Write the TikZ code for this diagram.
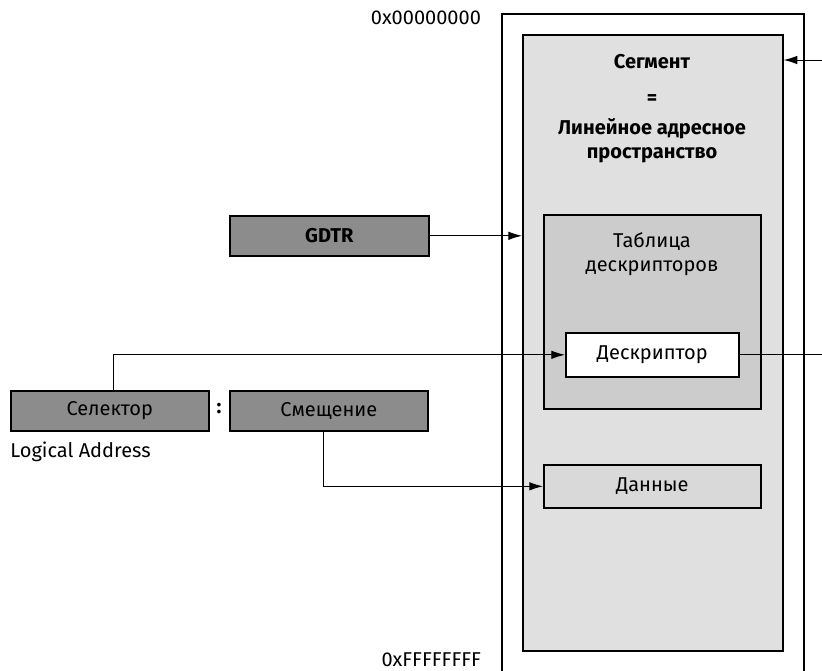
\documentclass[tikz,border=0pt]{standalone}
\usepackage{fontspec}
\setmainfont{Fira Sans}
\usetikzlibrary{arrows.meta, positioning}

\begin{document}
\begin{tikzpicture}[
    x=0.5pt, y=-0.5pt,
    frame/.style={draw, line width=1pt, inner sep=0pt, anchor=north west},
    area/.style={draw, line width=0.8pt, inner sep=0pt, anchor=north west},
    regbox/.style={draw, line width=0.8pt, fill=black!45, inner sep=0pt, anchor=north west, minimum height=20pt},
    arrow/.style={-{Latex[length=2.4mm, width=1.5mm]}, line width=0.5pt},
    wire/.style={line width=0.5pt}
]
\useasboundingbox (0,0) rectangle (822,670);
\clip (0,0) rectangle (822,670);

% linear address space
\node[frame, minimum width=151pt, minimum height=345pt] (space) at (501,13) {};
\node[area, fill=black!12, minimum width=130pt, minimum height=308pt] (seg) at (522,34) {};
\node[font=\bfseries, align=center] (segtext) at (652,109) {Сегмент\\[6pt]=\\[3pt]Линейное адресное\\пространство};

% descriptor table
\node[area, fill=black!20, minimum width=108.5pt, minimum height=97pt] (table) at (543,214) {};
\node[align=center] (tabtext) at (652,254) {Таблица\\дескрипторов};
\node[area, fill=white, minimum width=86.5pt, minimum height=22pt] (desc) at (565,332) {};
\node at (desc.center) {Дескриптор};
\node[area, fill=black!15, minimum width=108.5pt, minimum height=21.5pt] (data) at (543,464) {};
\node at (data.center) {Данные};

\node[anchor=east] (addrlo) at (488,18) {0x00000000};
\node[anchor=east] (addrhi) at (488,660) {0xFFFFFFFF};

% registers and logical address
\node[regbox, minimum width=99.5pt, font=\bfseries] (gdtr) at (229,215) {GDTR};
\node[regbox, minimum width=99pt] (sel) at (10,390) {Селектор};
\node (colon) at (219,409) {\bfseries :};
\node[regbox, minimum width=99pt] (off) at (229,390) {Смещение};
\node[anchor=west, inner sep=0pt] (logical) at (10,452) {Logical Address};

\coordinate (rim) at (822,60);

\draw[arrow] (gdtr.east) -- (gdtr.east -| seg.west);
\draw[arrow] ([xshift=2pt]sel.north) |- (desc.west);
\draw[arrow] ([xshift=-2.5pt]off.south) |- (data.west);
\draw[wire] (desc.east) -- (desc.east -| rim);
\draw[arrow] (rim) -- (rim -| seg.east);

\end{tikzpicture}
\end{document}
